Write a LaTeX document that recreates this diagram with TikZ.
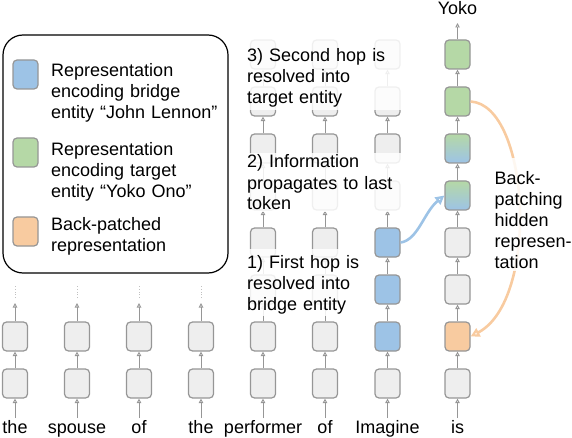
\documentclass[tikz,border=0pt]{standalone}
\usepackage{fontspec}
\setmainfont{Liberation Sans}
\usetikzlibrary{arrows.meta}

\definecolor{boxgray}{RGB}{238,238,238}
\definecolor{edgegray}{RGB}{150,150,150}
\definecolor{bridgeblue}{RGB}{157,195,230}
\definecolor{targetgreen}{RGB}{181,216,166}
\definecolor{patchorange}{RGB}{248,203,160}

\tikzset{
  hid/.style={draw=edgegray, line width=1.2pt, rounded corners=4pt, fill=boxgray,
    minimum width=25pt, minimum height=29pt, inner sep=0pt},
  up/.style={draw=edgegray, line width=0.9pt, -{Triangle[open,length=4.5pt,width=4.5pt]}},
  lbl/.style={font=\fontsize{18}{21}\selectfont, inner sep=0pt, align=left},
  veil/.style={fill=white, fill opacity=0.85, text opacity=1, inner sep=2pt},
  bridgehop/.style={draw=bridgeblue, line width=2.6pt, -{Triangle[open,length=9pt,width=9pt]}},
  backpatch/.style={draw=patchorange, line width=2.6pt, -{Triangle[open,length=9pt,width=9pt]}}
}

\begin{document}
\begin{tikzpicture}[x=1pt,y=-1pt]
% \clip (0,0) rectangle (572,438);
\useasboundingbox (0,0) rectangle (572,438);

% Drawing legend
\draw [line width=1.2pt, rounded corners=20pt] (3,35) rectangle (228,273);%
\node [hid, fill=bridgeblue] (keyblue) at (25.5,74.5) {};%
\node [hid, fill=targetgreen] (keygreen) at (25.5,152.5) {};%
\node [hid, fill=patchorange] (keyorange) at (25.5,231.5) {};%
\node [lbl, text width=176pt, anchor=base west] (keybluetext) at (51,77) {Representation\\encoding bridge\\entity “John Lennon”};%
\node [lbl, text width=176pt, anchor=base west] (keygreentext) at (51,156) {Representation\\encoding target\\entity “Yoko Ono”};%
\node [lbl, text width=176pt, anchor=base west] (keyorangetext) at (51,230) {Back-patched\\representation};%

% Drawing tokens and the two lower layers
\foreach \c/\x/\w in {1/15/the, 2/77/spouse, 3/139/of, 4/201/the, 5/263/performer, 6/325/of, 7/387.5/Imagine, 8/457.5/is} {
  \node [lbl, anchor=base] (w\c) at (\x,433) {\w};%
  \coordinate (in\c) at (\x,418);%
}
\foreach \c/\x in {1/15, 2/77, 3/139, 4/201, 5/263, 6/325} {
  \node [hid] (h\c-1) at (\x,383.5) {};%
  \node [hid] (h\c-2) at (\x,336.5) {};%
  \draw [up] (in\c) -- (h\c-1);%
  \draw [up] (h\c-1) -- (h\c-2);%
}

% Columns cut short with dots
\foreach \c/\x in {1/15, 2/77, 3/139, 4/201} {
  \coordinate (top\c) at (\x,303);%
  \draw [up] (h\c-2) -- (top\c);%
  \draw [edgegray!60, dotted, line width=0.8pt] (\x,298) -- (\x,285);%
}

% Upper layers of performer and of
\foreach \c/\x in {5/263, 6/325} {
  \foreach \l in {3,...,8} {
    \node [hid] (h\c-\l) at (\x,{383.5-47*(\l-1)}) {};%
  }
  \foreach \l [count=\n from 3] in {2,...,7} {
    \draw [up] (h\c-\l) -- (h\c-\n);%
  }
}

% Column Imagine
\node [hid] (h7-1) at (387.5,383.5) {};%
\node [hid, fill=bridgeblue] (h7-2) at (387.5,336.5) {};%
\node [hid, fill=bridgeblue] (h7-3) at (387.5,289.5) {};%
\node [hid, fill=bridgeblue] (h7-4) at (387.5,242.5) {};%
\node [hid] (h7-5) at (387.5,195.5) {};%
\node [hid] (h7-6) at (387.5,148.5) {};%
\node [hid] (h7-7) at (387.5,101.5) {};%
\node [hid] (h7-8) at (387.5,54.5) {};%

% Column is
\node [hid] (h8-1) at (457.5,383.5) {};%
\node [hid, fill=patchorange] (h8-2) at (457.5,336.5) {};%
\node [hid] (h8-3) at (457.5,289.5) {};%
\node [hid] (h8-4) at (457.5,242.5) {};%
\node [hid, top color=targetgreen, bottom color=bridgeblue] (h8-5) at (457.5,195.5) {};%
\node [hid, top color=targetgreen, bottom color=bridgeblue] (h8-6) at (457.5,148.5) {};%
\node [hid, fill=targetgreen] (h8-7) at (457.5,101.5) {};%
\node [hid, fill=targetgreen] (h8-8) at (457.5,54.5) {};%
\foreach \c in {7,8} {
  \draw [up] (in\c) -- (h\c-1);%
  \foreach \l [count=\n from 2] in {1,...,7} {
    \draw [up] (h\c-\l) -- (h\c-\n);%
  }
}
\coordinate (out8) at (457.5,23);%
\draw [up] (h8-8) -- (out8);%
\node [lbl, anchor=base] (yoko) at (457.5,15) {Yoko};%

% Drawing hop and back-patching arrows
\draw [bridgehop] (h7-4.east) .. controls (418,240) and (424,212) .. (h8-5.west);%
\draw [backpatch] (h8-7.east) .. controls (530,105) and (540,300) .. (h8-2.east);%

% Marking the steps
\node [lbl, veil, text width=154pt, text height=21pt, anchor=base west] (step3) at (245,62) {3) Second hop is\\resolved into\\target entity};%
\node [lbl, veil, text width=154pt, anchor=base west] (step2) at (245,168) {2) Information\\propagates to last\\token};%
\node [lbl, veil, text width=120pt, text height=17pt, anchor=base west] (step1) at (245,268) {1) First hop is\\resolved into\\bridge entity};%
\node [lbl, veil, text width=77.5pt, text height=25pt, anchor=base west] (patchtext) at (492.5,185) {Back-\\patching\\hidden\\represen-\\tation};%
\end{tikzpicture}
\end{document}
